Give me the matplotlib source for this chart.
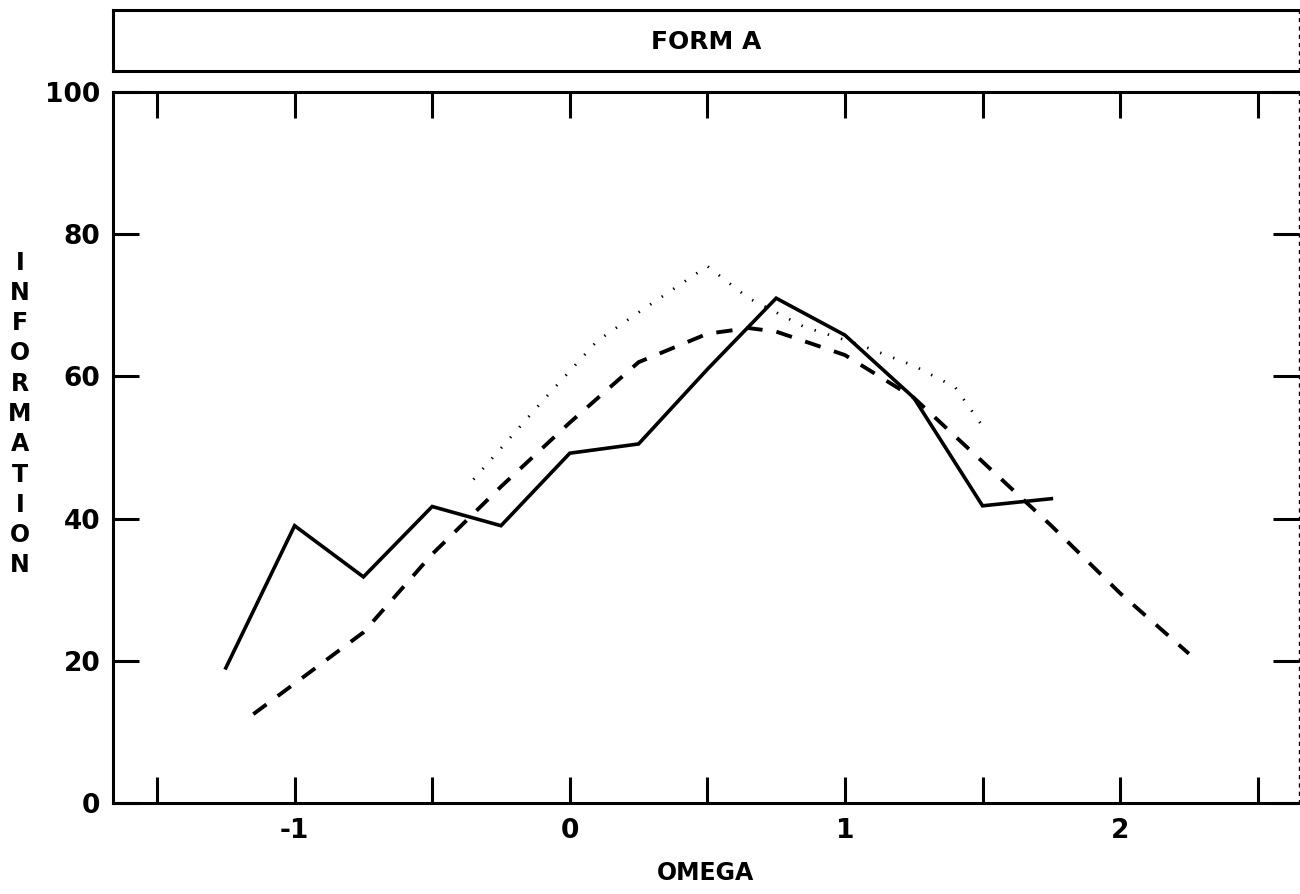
import matplotlib
matplotlib.use("Agg")
import matplotlib.pyplot as plt
from matplotlib.ticker import MultipleLocator, FixedLocator, NullFormatter

# ---- data ----
omega_solid = [-1.25, -1.0, -0.75, -0.5, -0.25, 0.0, 0.25, 0.5, 0.75, 1.0, 1.25, 1.5, 1.75]
info_solid = [19.0, 39.0, 31.8, 41.7, 39.0, 49.2, 50.5, 61.0, 71.0, 65.8, 57.0, 41.8, 42.8]

omega_dashed = [-1.15, -1.0, -0.75, -0.5, -0.25, 0.0, 0.25, 0.5, 0.65, 0.75, 1.0, 1.25, 1.5, 1.75, 2.0, 2.25]
info_dashed = [12.5, 16.8, 24.0, 35.0, 44.5, 53.5, 62.0, 66.0, 66.8, 66.3, 63.0, 57.0, 48.0, 39.0, 29.5, 21.0]

omega_dotted = [-0.35, -0.1, 0.1, 0.25, 0.5, 0.65, 0.85, 1.05, 1.25, 1.4, 1.5]
info_dotted = [45.5, 56.5, 65.0, 69.0, 75.5, 71.0, 67.0, 64.5, 61.5, 58.5, 53.0]

xtick_labels = ["-1", "0", "1", "2"]
xtick_values = [-1, 0, 1, 2]
ytick_values = [0, 20, 40, 60, 80, 100]

title_text = "FORM A"
x_label = "OMEGA"
y_label = "INFORMATION"

# ---- figure ----
fig = plt.figure(figsize=(13, 8.94), dpi=100)
L, R = 113 / 1300, 1299 / 1300
ax = fig.add_axes([L, 1 - 803 / 894, R - L, (803 - 92) / 894])
tax = fig.add_axes([L, 1 - 71 / 894, R - L, (71 - 10) / 894])

font = dict(family="DejaVu Sans", weight="bold")

# title box
for s in tax.spines.values():
    s.set_linewidth(2.2)
tax.set_xticks([])
tax.set_yticks([])
tax.text(0.5, 0.47, title_text, ha="center", va="center", fontsize=18,
         transform=tax.transAxes, **font)

# lines
ax.plot(omega_solid, info_solid, color="black", lw=2.6, solid_joinstyle="miter")
ax.plot(omega_dashed, info_dashed, color="black", lw=2.8, dashes=(4.2, 3.6))
ax.plot(omega_dotted, info_dotted, color="black", lw=2.0, dashes=(0.5, 4.5))

ax.set_xlim(-1.66, 2.65)
ax.set_ylim(0, 100)

ax.xaxis.set_major_locator(FixedLocator(xtick_values))
ax.set_xticklabels(xtick_labels)
ax.xaxis.set_minor_locator(MultipleLocator(0.5))
ax.xaxis.set_minor_formatter(NullFormatter())
ax.yaxis.set_major_locator(FixedLocator(ytick_values))

ax.tick_params(axis="both", which="both", direction="in", length=19, width=2.2,
               top=True, right=True, labelsize=19)
ax.tick_params(axis="x", which="both", pad=11)
ax.tick_params(axis="y", which="both", pad=9)
for lab in ax.get_xticklabels() + ax.get_yticklabels():
    lab.set_fontweight("bold")
    lab.set_family("DejaVu Sans")

for s in ax.spines.values():
    s.set_linewidth(2.2)
ax.spines["right"].set_linewidth(1.0)
ax.spines["right"].set_linestyle((0, (2, 4)))
tax.spines["right"].set_linewidth(1.0)
tax.spines["right"].set_linestyle((0, (2, 4)))

ax.set_xlabel(x_label, fontsize=17, labelpad=12, **font)
fig.text(20 / 1300, 1 - 414 / 894, "\n".join(y_label), ha="center", va="center",
         fontsize=17, linespacing=1.33, **font)

fig.savefig("out.png", dpi=100)
